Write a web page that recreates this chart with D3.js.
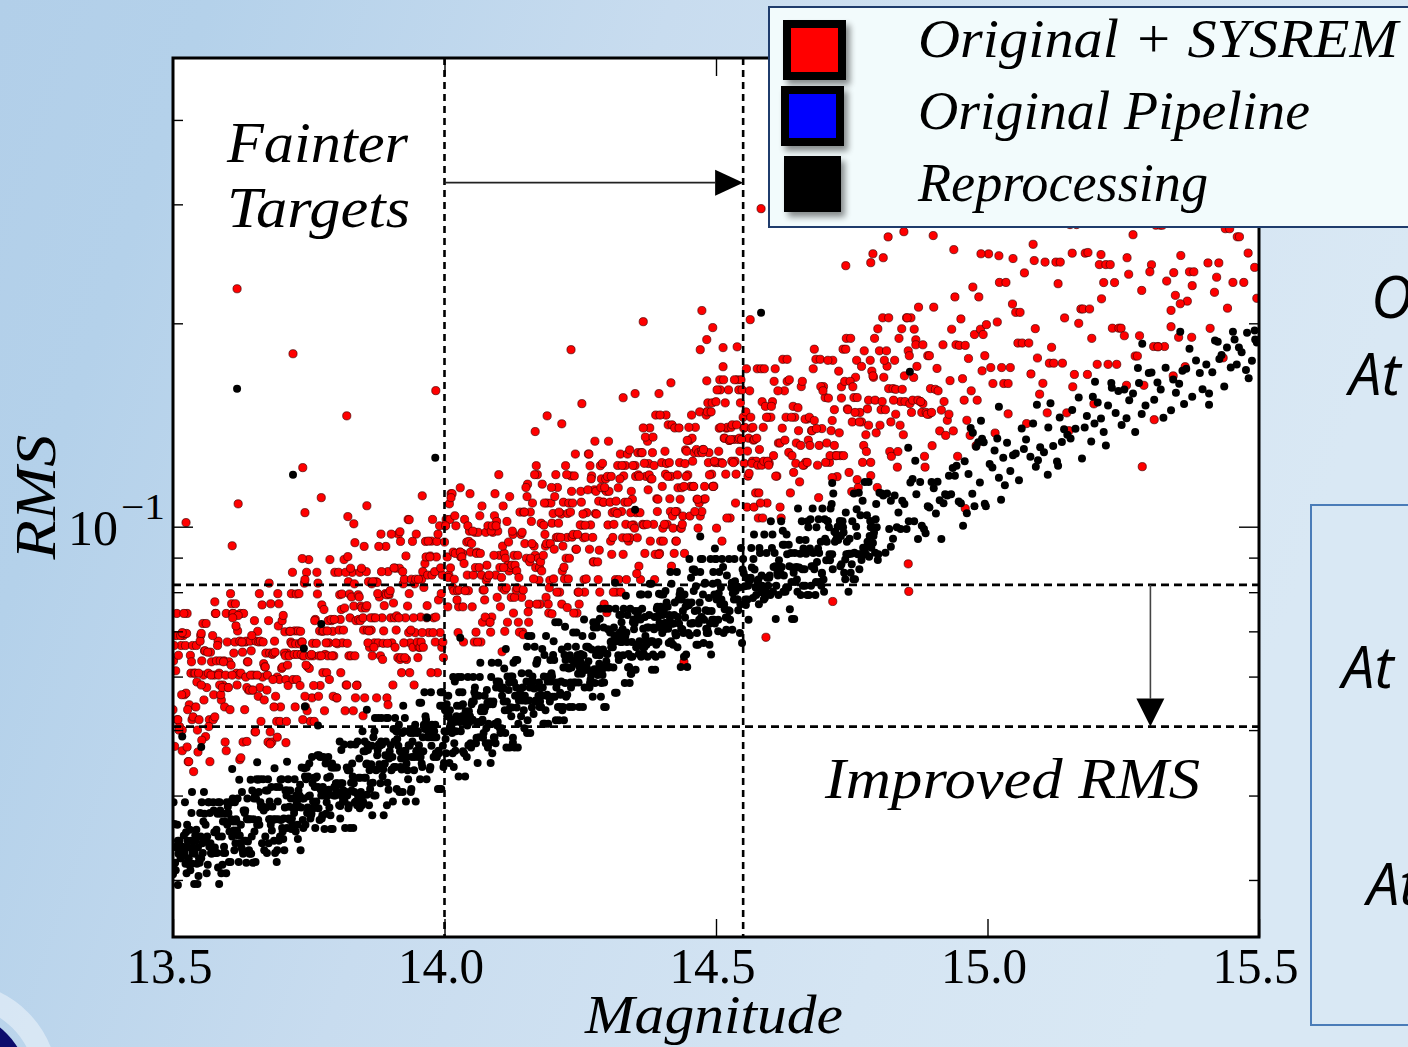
<!DOCTYPE html>
<html><head><meta charset="utf-8">
<script src="https://cdn.jsdelivr.net/npm/d3@7/dist/d3.min.js"></script>
<style>html,body{margin:0;padding:0;overflow:hidden;background:#c6dbee}svg{display:block}</style>
</head><body>
<svg id="chart" width="1408" height="1047"></svg>
<script>
// ---------- data ----------
const xTicks = [13.5, 14.0, 14.5, 15.0, 15.5];
const xTickLabels = ["13.5", "14.0", "14.5", "15.0", "15.5"];
const xInnerTicks = [14.0, 14.5, 15.0];
const yMajorTicks = [0.1];
const yMinorTicks = [0.03, 0.04, 0.05, 0.06, 0.07, 0.08, 0.09, 0.2, 0.3, 0.4];
const legendLabels = ["Original + SYSREM", "Original Pipeline", "Reprocessing"];
const legendColors = ["#ff0000", "#0000ff", "#000000"];
const magnitudeCuts = [14.0, 14.55];
const rmsCuts = [0.082, 0.0506];
const fainterArrow = [[14.0, 0.323], [14.55, 0.323]];
const improvedArrow = [[15.3, 0.082], [15.3, 0.0506]];

// Reprocessing (black): [magnitude, rms]
const reprocessing = [
[13.5,.0306],[13.502,.0317],[13.504,.0318],[13.506,.0336],[13.508,.0362],[13.51,.0328],[13.512,.0343],[13.514,.0323],[13.516,.0335],[13.518,.0336],[13.52,.0349],[13.522,.0391],[13.524,.0353],[13.526,.0362],[13.528,.0335],[13.53,.0316],[13.532,.031],[13.534,.0377],[13.536,.0329],[13.538,.0329],[13.54,.0328],[13.542,.0343],[13.544,.0317],[13.546,.0335],[13.548,.0323],
[13.55,.0377],[13.552,.0323],[13.554,.034],[13.556,.0366],[13.558,.0376],[13.56,.0362],[13.562,.0307],[13.564,.0316],[13.566,.0391],[13.568,.0377],[13.57,.0329],[13.572,.0329],[13.574,.0391],[13.576,.0353],[13.578,.0329],[13.58,.0356],[13.582,.0376],[13.584,.0348],[13.586,.0391],[13.588,.0376],[13.59,.0348],[13.592,.0366],[13.594,.0336],[13.596,.0329],[13.598,.0307],
[13.6,.0362],[13.602,.0377],[13.604,.0354],[13.606,.0319],[13.608,.0391],[13.61,.0396],[13.612,.0355],[13.614,.0391],[13.616,.0369],[13.618,.0355],[13.62,.0349],[13.622,.0422],[13.624,.034],[13.626,.0335],[13.628,.0332],[13.63,.038],[13.632,.0377],[13.634,.0343],[13.636,.0369],[13.638,.0342],[13.64,.0332],[13.642,.0369],[13.644,.0328],[13.646,.0407],[13.648,.0369],
[13.65,.0354],[13.652,.0319],[13.654,.0423],[13.656,.0422],[13.658,.0405],[13.66,.0423],[13.662,.0385],[13.664,.034],[13.666,.0423],[13.668,.0332],[13.67,.0348],[13.672,.0384],[13.674,.0407],[13.676,.034],[13.678,.0392],[13.68,.0362],[13.682,.0355],[13.684,.0368],[13.686,.0343],[13.688,.0329],[13.69,.0412],[13.692,.0332],[13.694,.0369],[13.696,.0412],[13.698,.0422],
[13.7,.0423],[13.702,.0354],[13.704,.037],[13.706,.0384],[13.708,.0407],[13.71,.0358],[13.712,.0423],[13.714,.0385],[13.716,.0407],[13.718,.0357],[13.72,.0362],[13.722,.0383],[13.724,.0423],[13.726,.0354],[13.728,.0391],[13.73,.0345],[13.732,.0385],[13.734,.0415],[13.736,.0384],[13.738,.0396],[13.74,.0358],[13.742,.0439],[13.744,.0362],[13.746,.044],[13.748,.0384],
[13.75,.0399],[13.752,.04],[13.754,.0374],[13.756,.0456],[13.758,.0392],[13.76,.0425],[13.762,.0358],[13.764,.0392],[13.766,.0459],[13.768,.0383],[13.77,.0368],[13.772,.0408],[13.774,.037],[13.776,.0412],[13.778,.04],[13.78,.0407],[13.782,.0376],[13.784,.0425],[13.786,.0456],[13.788,.0384],[13.79,.0374],[13.792,.044],[13.794,.0357],[13.796,.04],[13.798,.044],
[13.8,.0417],[13.802,.044],[13.804,.0405],[13.806,.0387],[13.808,.037],[13.81,.0467],[13.812,.0417],[13.814,.0407],[13.816,.0392],[13.818,.04],[13.82,.044],[13.822,.0436],[13.824,.0387],[13.826,.0358],[13.828,.0418],[13.83,.0446],[13.832,.0358],[13.834,.0405],[13.836,.0476],[13.838,.0391],[13.84,.0481],[13.842,.0425],[13.844,.0383],[13.846,.0405],[13.848,.0387],
[13.85,.0392],[13.852,.0425],[13.854,.0465],[13.856,.0445],[13.858,.0476],[13.86,.0474],[13.862,.0436],[13.864,.0417],[13.866,.0474],[13.868,.0418],[13.87,.04],[13.872,.0521],[13.874,.0436],[13.876,.0459],[13.878,.0521],[13.88,.0445],[13.882,.0417],[13.884,.0521],[13.886,.0427],[13.888,.0374],[13.89,.0446],[13.892,.0481],[13.894,.0387],[13.896,.0521],[13.898,.0454],
[13.9,.0456],[13.902,.0436],[13.904,.0456],[13.906,.0502],[13.908,.0481],[13.91,.0441],[13.912,.0409],[13.914,.0498],[13.916,.0509],[13.918,.0465],[13.92,.0454],[13.922,.0495],[13.924,.0465],[13.926,.0498],[13.928,.0466],[13.93,.0446],[13.932,.0436],[13.934,.0475],[13.936,.0474],[13.938,.0405],[13.94,.0456],[13.942,.0502],[13.944,.0436],[13.946,.0509],[13.948,.0465],
[13.95,.0495],[13.952,.0456],[13.954,.0549],[13.956,.0456],[13.958,.0446],[13.96,.0488],[13.962,.0509],[13.964,.0502],[13.966,.0518],[13.968,.0509],[13.97,.0502],[13.972,.0488],[13.974,.0441],[13.976,.0474],[13.978,.0508],[13.98,.0456],[13.982,.0488],[13.984,.0462],[13.986,.0456],[13.988,.0409],[13.99,.0462],[13.992,.0543],[13.994,.0409],[13.996,.0569],[13.998,.0441],
[14.0,.0498],[14.002,.0485],[14.004,.0546],[14.006,.0498],[14.008,.0524],[14.01,.0535],[14.012,.0518],[14.014,.0495],[14.016,.0599],[14.018,.0478],[14.02,.0466],[14.022,.0524],[14.024,.0518],[14.026,.0427],[14.028,.0514],[14.03,.0498],[14.032,.0524],[14.034,.0546],[14.036,.0462],[14.038,.0427],[14.04,.0524],[14.042,.0508],[14.044,.0475],[14.046,.0514],[14.048,.0478],
[14.05,.0546],[14.052,.0518],[14.054,.0551],[14.056,.0578],[14.058,.0478],[14.06,.0511],[14.062,.0514],[14.064,.0488],[14.066,.0629],[14.068,.0514],[14.07,.0518],[14.072,.0495],[14.074,.0562],[14.076,.0478],[14.078,.0573],[14.08,.0471],[14.082,.0478],[14.084,.0551],[14.086,.0599],[14.088,.0462],[14.09,.0551],[14.092,.0487],[14.094,.0478],[14.096,.059],[14.098,.0514],
[14.1,.059],[14.102,.0503],[14.104,.0576],[14.106,.0562],[14.108,.0578],[14.11,.0617],[14.112,.0495],[14.114,.0471],[14.116,.06],[14.118,.0573],[14.12,.0471],[14.122,.06],[14.124,.054],[14.126,.0487],[14.128,.0588],[14.13,.0562],[14.132,.0578],[14.134,.0635],[14.136,.0511],[14.138,.0562],[14.14,.0576],[14.142,.0607],[14.144,.0578],[14.146,.0535],[14.148,.0562],
[14.15,.0553],[14.152,.0495],[14.154,.0689],[14.156,.0553],[14.158,.0495],[14.16,.0689],[14.162,.06],[14.164,.0528],[14.166,.0664],[14.168,.0553],[14.17,.0629],[14.172,.0578],[14.174,.0588],[14.176,.0551],[14.178,.0541],[14.18,.0659],[14.182,.0511],[14.184,.0646],[14.186,.0535],[14.188,.0562],[14.19,.059],[14.192,.06],[14.194,.0551],[14.196,.059],[14.198,.06],
[14.2,.0646],[14.202,.0635],[14.204,.0722],[14.206,.0578],[14.208,.0588],[14.21,.0722],[14.212,.0541],[14.214,.0564],[14.216,.0658],[14.218,.0541],[14.22,.0517],[14.222,.0587],[14.224,.056],[14.226,.0564],[14.228,.0619],[14.23,.0541],[14.232,.0588],[14.234,.0619],[14.236,.0541],[14.238,.0588],[14.24,.0632],[14.242,.0664],[14.244,.0635],[14.246,.0606],[14.248,.0541],
[14.25,.0632],[14.252,.0627],[14.254,.0689],[14.256,.0645],[14.258,.0578],[14.26,.0614],[14.262,.0619],[14.264,.0664],[14.266,.0662],[14.268,.0587],[14.27,.0603],[14.272,.0689],[14.274,.0722],[14.276,.0615],[14.278,.0614],[14.28,.0722],[14.282,.0603],[14.284,.0614],[14.286,.0645],[14.288,.056],[14.29,.0614],[14.292,.0658],[14.294,.0541],[14.296,.0756],[14.298,.0632],
[14.3,.0648],[14.302,.0619],[14.304,.062],[14.306,.0675],[14.308,.0677],[14.31,.0663],[14.312,.0709],[14.314,.0568],[14.316,.0677],[14.318,.0689],[14.32,.0645],[14.322,.074],[14.324,.0675],[14.326,.0722],[14.328,.0705],[14.33,.0756],[14.332,.0587],[14.334,.079],[14.336,.0675],[14.338,.0619],[14.34,.062],[14.342,.0756],[14.344,.0606],[14.346,.0642],[14.348,.0729],
[14.35,.0719],[14.352,.0614],[14.354,.0669],[14.356,.074],[14.358,.0648],[14.36,.0794],[14.362,.0642],[14.364,.0756],[14.366,.0706],[14.368,.0663],[14.37,.0689],[14.372,.0669],[14.374,.0642],[14.376,.0709],[14.378,.0823],[14.38,.0677],[14.382,.0614],[14.384,.0647],[14.386,.0705],[14.388,.0614],[14.39,.0669],[14.392,.0761],[14.394,.0675],[14.396,.072],[14.398,.0761],
[14.4,.0647],[14.402,.074],[14.404,.075],[14.406,.072],[14.408,.0719],[14.41,.0719],[14.412,.0706],[14.414,.074],[14.416,.0857],[14.418,.0823],[14.42,.0719],[14.422,.0719],[14.424,.0772],[14.426,.0691],[14.428,.0857],[14.43,.0735],[14.432,.0719],[14.434,.0803],[14.436,.0706],[14.438,.0705],[14.44,.0696],[14.442,.0794],[14.444,.0761],[14.446,.0765],[14.448,.0772],
[14.45,.0765],[14.452,.0691],[14.454,.084],[14.456,.0719],[14.458,.072],[14.46,.0864],[14.462,.0857],[14.464,.0669],[14.466,.0752],[14.468,.0719],[14.47,.0772],[14.472,.0896],[14.474,.0734],[14.476,.0794],[14.478,.0728],[14.48,.0826],[14.482,.0706],[14.484,.0704],[14.486,.0696],[14.488,.0669],[14.49,.0896],[14.492,.075],[14.494,.0823],[14.496,.0728],[14.498,.0719],
[14.5,.0896],[14.503,.0826],[14.505,.0797],[14.508,.0768],[14.51,.078],[14.513,.0872],[14.515,.0768],[14.518,.0734],[14.52,.0847],[14.523,.0752],[14.525,.075],[14.528,.0813],[14.53,.0704],[14.533,.078],[14.535,.083],[14.538,.0816],[14.54,.078],[14.543,.0813],[14.545,.0768],[14.548,.0673],
[14.55,.0896],[14.553,.0816],[14.555,.0766],[14.558,.078],[14.56,.0728],[14.563,.0835],[14.565,.093],[14.568,.0784],[14.57,.0974],[14.573,.0813],[14.575,.0816],[14.578,.0835],[14.58,.093],[14.583,.08],[14.585,.0818],[14.588,.078],[14.59,.0784],[14.593,.0914],[14.595,.0797],[14.598,.084],
[14.6,.0792],[14.603,.093],[14.605,.0801],[14.608,.0914],[14.61,.073],[14.613,.0855],[14.615,.0792],[14.618,.0872],[14.62,.1019],[14.623,.094],[14.625,.0847],[14.628,.0801],[14.63,.0974],[14.633,.0813],[14.635,.0874],[14.638,.0914],[14.64,.073],[14.643,.0855],[14.645,.0914],[14.648,.0872],
[14.65,.0801],[14.653,.087],[14.655,.0912],[14.658,.1019],[14.66,.0818],[14.663,.0865],[14.665,.0956],[14.668,.0792],[14.67,.0998],[14.673,.0928],[14.675,.0818],[14.678,.1064],[14.68,.0874],[14.683,.0792],[14.685,.0998],[14.688,.0928],[14.69,.0914],[14.693,.095],[14.695,.0855],[14.698,.0835],
[14.7,.1026],[14.703,.0892],[14.705,.102],[14.708,.0998],[14.71,.0892],[14.713,.108],[14.715,.0865],[14.718,.0983],[14.72,.098],[14.723,.0969],[14.725,.0956],[14.728,.102],[14.73,.0969],[14.733,.1019],[14.735,.098],[14.738,.0836],[14.74,.091],[14.743,.091],[14.745,.0912],[14.748,.0855],
[14.75,.088],[14.753,.0836],[14.755,.0915],[14.758,.1],[14.76,.0969],[14.763,.1123],[14.765,.091],[14.768,.0893],[14.77,.1092],[14.773,.091],[14.775,.0931],[14.778,.104],[14.78,.094],[14.783,.0969],[14.785,.0998],[14.788,.1],[14.79,.0969],[14.793,.0915],[14.795,.108],[14.798,.0893],
[14.801,.1123],[14.805,.112],[14.808,.1112],[14.812,.0915],[14.815,.112],[14.819,.0992],[14.822,.1092],[14.826,.096],[14.829,.1112],[14.833,.0998],[14.836,.105],[14.84,.0992],[14.843,.1092],[14.847,.108],
[14.851,.0992],[14.855,.1019],[14.858,.1163],[14.862,.1177],[14.865,.1019],[14.869,.1117],[14.872,.0959],[14.876,.1165],[14.879,.1003],[14.883,.0992],[14.886,.0978],[14.89,.1072],[14.893,.1068],[14.897,.1165],
[14.901,.114],[14.905,.1046],[14.908,.1166],[14.912,.1094],[14.915,.0959],[14.919,.1083],[14.922,.1117],[14.926,.1112],[14.929,.119],[14.933,.1117],[14.936,.1221],[14.94,.119],[14.943,.1231],[14.947,.109],
[14.951,.1083],[14.955,.1003],[14.958,.125],[14.962,.1047],[14.965,.1197],[14.969,.14],[14.972,.1119],[14.976,.1072],[14.979,.1313],[14.983,.1333],[14.986,.1163],[14.99,.135],[14.993,.1333],[14.997,.1072],
[15.004,.1238],[15.013,.1297],[15.021,.1182],[15.029,.1265],[15.036,.1331],[15.042,.1209],[15.047,.1276],[15.018,.1351],[15.032,.1152],[15.009,.1224],
[15.071,.1346],[15.052,.1283],[15.089,.1227],[15.063,.1398],[15.097,.1311],[15.058,.1172],[15.079,.1269],[15.084,.1421],[15.067,.1303],[15.093,.1254],
[15.112,.1402],[15.121,.1317],[15.147,.1368],[15.104,.1289],[15.133,.1451],[15.128,.1249],[15.141,.1394],[15.116,.1523],[15.137,.1335],
[15.183,.1458],[15.162,.1396],[15.191,.1337],[15.156,.1489],[15.174,.1262],[15.197,.1421],[15.168,.1553],[15.179,.1402],[15.153,.1351],
[15.222,.1512],[15.209,.1446],[15.241,.1588],[15.214,.1381],[15.236,.1473],[15.203,.1527],[15.247,.1414],[15.228,.1632],[15.218,.1319],
[15.268,.1574],[15.291,.1511],[15.256,.1447],[15.279,.1632],[15.261,.1539],[15.297,.1688],[15.284,.1468],[15.272,.1381],[15.252,.1596],
[15.319,.1596],[15.342,.1652],[15.307,.1541],[15.328,.1719],[15.338,.1487],[15.313,.1634],[15.347,.1578],[15.302,.1692],[15.324,.1449],
[15.366,.1713],[15.353,.1628],[15.391,.1689],[15.377,.1557],[15.384,.1762],[15.359,.1701],[15.396,.1598],[15.372,.1834],[15.362,.1519],
[15.427,.1771],[15.414,.1693],[15.441,.1842],[15.403,.1738],[15.436,.1612],[15.419,.1887],[15.448,.1721],[15.408,.1574],[15.431,.1796],
[15.463,.1842],[15.487,.1761],[15.455,.1893],[15.476,.1706],[15.492,.1951],[15.468,.1812],[15.481,.1659],[15.496,.1874],[15.459,.1738]
];
// Reprocessing (black), second pass through the dense part of the band
const reprocessingDense = [
[13.501,.0391],[13.503,.0363],[13.505,.031],[13.507,.0335],[13.509,.0343],[13.511,.0339],[13.513,.0335],[13.515,.0323],[13.517,.0329],[13.519,.0328],[13.521,.0329],[13.523,.0317],[13.525,.0307],[13.527,.0343],[13.529,.0323],[13.531,.0356],[13.533,.0343],[13.535,.0317],[13.537,.0335],[13.539,.0296],[13.541,.0349],[13.543,.0356],[13.545,.0296],[13.547,.0304],[13.549,.0318],
[13.551,.0348],[13.553,.0391],[13.555,.0329],[13.557,.0405],[13.559,.0342],[13.561,.0343],[13.563,.0348],[13.565,.0391],[13.567,.0336],[13.569,.034],[13.571,.0328],[13.573,.0329],[13.575,.038],[13.577,.0335],[13.579,.0353],[13.581,.0329],[13.583,.0391],[13.585,.0296],[13.587,.038],[13.589,.0307],[13.591,.0316],[13.593,.0329],[13.595,.0366],[13.597,.0376],[13.599,.0391],
[13.601,.0385],[13.603,.0319],[13.605,.0391],[13.607,.0369],[13.609,.0348],[13.611,.0366],[13.613,.0332],[13.615,.034],[13.617,.0366],[13.619,.0396],[13.621,.0319],[13.623,.0349],[13.625,.0362],[13.627,.0405],[13.629,.0328],[13.631,.0343],[13.633,.038],[13.635,.0318],[13.637,.0396],[13.639,.0369],[13.641,.0328],[13.643,.0422],[13.645,.0348],[13.647,.0318],[13.649,.0396],
[13.651,.04],[13.653,.0396],[13.655,.0362],[13.657,.0368],[13.659,.0362],[13.661,.0391],[13.663,.0384],[13.665,.0385],[13.667,.038],[13.669,.0384],[13.671,.0407],[13.673,.0329],[13.675,.0423],[13.677,.0369],[13.679,.0369],[13.681,.0412],[13.683,.0385],[13.685,.0369],[13.687,.0439],[13.689,.0369],[13.691,.0319],[13.693,.0392],[13.695,.0343],[13.697,.0348],[13.699,.0368],
[13.701,.0358],[13.703,.0345],[13.705,.0332],[13.707,.0407],[13.709,.04],[13.711,.0407],[13.713,.037],[13.715,.0368],[13.717,.0396],[13.719,.037],[13.721,.0384],[13.723,.0377],[13.725,.0383],[13.727,.04],[13.729,.0362],[13.731,.0407],[13.733,.04],[13.735,.0332],[13.737,.044],[13.739,.0368],[13.741,.0396],[13.743,.0427],[13.745,.0423],[13.747,.0377],[13.749,.0427],
[13.751,.0446],[13.753,.037],[13.755,.0376],[13.757,.0417],[13.759,.0383],[13.761,.0412],[13.763,.0425],[13.765,.0427],[13.767,.0412],[13.769,.0459],[13.771,.0456],[13.773,.04],[13.775,.0374],[13.777,.0456],[13.779,.0357],[13.781,.0446],[13.783,.0391],[13.785,.04],[13.787,.0408],[13.789,.0427],[13.791,.0357],[13.793,.0446],[13.795,.044],[13.797,.0412],[13.799,.04],
[13.801,.0405],[13.803,.0417],[13.805,.0415],[13.807,.0481],[13.809,.0417],[13.811,.0399],[13.813,.0392],[13.815,.0476],[13.817,.0358],[13.819,.0405],[13.821,.04],[13.823,.0383],[13.825,.0436],[13.827,.0476],[13.829,.0407],[13.831,.0427],[13.833,.0417],[13.835,.0391],[13.837,.0392],[13.839,.0387],[13.841,.0399],[13.843,.0454],[13.845,.0425],[13.847,.0399],[13.849,.0498],
[13.851,.0465],[13.853,.0481],[13.855,.0425],[13.857,.0446],[13.859,.0467],[13.861,.0387],[13.863,.0409],[13.865,.0445],[13.867,.0374],[13.869,.0488],[13.871,.0498],[13.873,.04],[13.875,.0437],[13.877,.0467],[13.879,.0476],[13.881,.0474],[13.883,.0481],[13.885,.0476],[13.887,.0437],[13.889,.0445],[13.891,.0459],[13.893,.0521],[13.895,.0418],[13.897,.0408],[13.899,.0465],
[13.901,.0475],[13.903,.0437],[13.905,.0392],[13.907,.0441],[13.909,.0521],[13.911,.0498],[13.913,.0485],[13.915,.0474],[13.917,.0405],[13.919,.0441],[13.921,.0437],[13.923,.0405],[13.925,.0456],[13.927,.0521],[13.929,.0392],[13.931,.0456],[13.933,.0423],[13.935,.0498],[13.937,.0495],[13.939,.0409],[13.941,.0481],[13.943,.0495],[13.945,.0456],[13.947,.0392],[13.949,.0466],
[13.951,.0498],[13.953,.0475],[13.955,.0423],[13.957,.0549],[13.959,.0441],[13.961,.0465],[13.963,.0569],[13.965,.0524],[13.967,.0423],[13.969,.0488],[13.971,.0495],[13.973,.0437],[13.975,.0569],[13.977,.0509],[13.979,.0488],[13.981,.0498],[13.983,.0509],[13.985,.0488],[13.987,.0462],[13.989,.0466],[13.991,.0409],[13.993,.0569],[13.995,.0543],[13.997,.0474],[13.999,.0447],
[14.001,.0535],[14.003,.0462],[14.005,.0524],[14.007,.0562],[14.009,.0447],[14.011,.0509],[14.013,.0503],[14.015,.0462],[14.017,.0441],[14.019,.0514],[14.021,.0498],[14.023,.0543],[14.025,.0599],[14.027,.0569],[14.029,.0543],[14.031,.0599],[14.033,.0569],[14.035,.0524],[14.037,.0514],[14.039,.0533],[14.041,.0456],[14.043,.0599],[14.045,.0533],[14.047,.0524],[14.049,.0471],
[14.051,.0551],[14.053,.0599],[14.055,.0569],[14.057,.0562],[14.059,.0487],[14.061,.0447],[14.063,.0562],[14.065,.0599],[14.067,.0533],[14.069,.054],[14.071,.0487],[14.073,.0533],[14.075,.054],[14.077,.0503],[14.079,.0549],[14.081,.0511],[14.083,.0546],[14.085,.0447],[14.087,.0629],[14.089,.0546],[14.091,.0488],[14.093,.0511],[14.095,.0578],[14.097,.0508],[14.099,.0629],
[14.101,.0588],[14.103,.0495],[14.105,.0503],[14.107,.0576],[14.109,.0551],[14.111,.0535],[14.113,.0659],[14.115,.0551],[14.117,.0535],[14.119,.0588],[14.121,.054],[14.123,.0524],[14.125,.06],[14.127,.0629],[14.129,.0471],[14.131,.0635],[14.133,.054],[14.135,.0471],[14.137,.0553],[14.139,.0573],[14.141,.0524],[14.143,.0553],[14.145,.0562],[14.147,.0503],[14.149,.0553],
[14.151,.059],[14.153,.0517],[14.155,.0607],[14.157,.0578],[14.159,.0588],[14.161,.054],[14.163,.059],[14.165,.0576],[14.167,.0551],[14.169,.0627],[14.171,.0635],[14.173,.0562],[14.175,.0541],[14.177,.0564],[14.179,.0562],[14.181,.0578],[14.183,.06],[14.185,.0511],[14.187,.0689],[14.189,.0564],[14.191,.0511],[14.193,.056],[14.195,.0635],[14.197,.0607],[14.199,.056],
[14.201,.0677],[14.203,.056],[14.205,.0517],[14.207,.0587],[14.209,.0541],[14.211,.0517],[14.213,.0568],[14.215,.059],[14.217,.0535],[14.219,.0619],[14.221,.0646],[14.223,.0635],[14.225,.0619],[14.227,.0664],[14.229,.0617],[14.231,.0645],[14.233,.0578],[14.235,.0635],[14.237,.0697],[14.239,.0627],[14.241,.0588],[14.243,.0697],[14.245,.0646],[14.247,.0588],[14.249,.0619],
[14.251,.0648],[14.253,.0606],[14.255,.0541],[14.257,.0729],[14.259,.0619],[14.261,.0664],[14.263,.0614],[14.265,.0632],[14.267,.0578],[14.269,.0594],[14.271,.0658],[14.273,.056],[14.275,.0709],[14.277,.0587],[14.279,.0646],[14.281,.0709],[14.283,.0658],[14.285,.0627],[14.287,.0756],[14.289,.0587],[14.291,.0603],[14.293,.0709],[14.295,.0619],[14.297,.0541],[14.299,.0648],
[14.301,.0705],[14.303,.0756],[14.305,.0697],[14.307,.0663],[14.309,.0675],[14.311,.0619],[14.313,.0691],[14.315,.0756],[14.317,.0568],[14.319,.0691],[14.321,.0635],[14.323,.0697],[14.325,.074],[14.327,.0675],[14.329,.0645],[14.331,.0691],[14.333,.0689],[14.335,.0697],[14.337,.074],[14.339,.0648],[14.341,.0587],[14.343,.0642],[14.345,.0675],[14.347,.0722],[14.349,.0705],
[14.351,.075],[14.353,.0663],[14.355,.0729],[14.357,.075],[14.359,.0677],[14.361,.0729],[14.363,.0794],[14.365,.0663],[14.367,.0648],[14.369,.0735],[14.371,.0677],[14.373,.0709],[14.375,.0794],[14.377,.074],[14.379,.0675],[14.381,.0823],[14.383,.0677],[14.385,.0709],[14.387,.0735],[14.389,.0642],[14.391,.0756],[14.393,.0735],[14.395,.074],[14.397,.0709],[14.399,.0794],
[14.401,.0696],[14.403,.0794],[14.405,.0705],[14.407,.0803],[14.409,.0772],[14.411,.0761],[14.413,.0673],[14.415,.0735],[14.417,.0677],[14.419,.0719],[14.421,.0669],[14.423,.074],[14.425,.0696],[14.427,.0691],[14.429,.0663],[14.431,.078],[14.433,.0794],[14.435,.062],[14.437,.078],[14.439,.075],[14.441,.0642],[14.443,.0734],[14.445,.0647],[14.447,.062],[14.449,.0696],
[14.451,.0896],[14.453,.0719],[14.455,.0772],[14.457,.0864],[14.459,.0803],[14.461,.075],[14.463,.0816],[14.465,.0696],[14.467,.0669],[14.469,.0728],[14.471,.0857],[14.473,.0735],[14.475,.0896],[14.477,.0673],[14.479,.0823],[14.481,.0752],[14.483,.0696],[14.485,.075],[14.487,.0784],[14.489,.0719],[14.491,.0647],[14.493,.0728],[14.495,.0857],[14.497,.0794],[14.499,.0896],
[14.501,.078],[14.504,.0728],[14.506,.0857],[14.509,.0813],[14.511,.0896],[14.514,.0696],[14.516,.0755],[14.519,.0704],[14.521,.0734],[14.524,.0896],[14.526,.0728],[14.529,.0826],[14.531,.0797],[14.534,.0896],[14.536,.0803],[14.539,.078],[14.541,.0752],[14.544,.0696],[14.546,.093],[14.549,.0864],
[14.551,.0853],[14.554,.078],[14.556,.084],[14.559,.0818],[14.561,.083],[14.564,.084],[14.566,.087],[14.569,.0896],[14.571,.0864],[14.574,.0792],[14.576,.083],[14.579,.0768],[14.581,.0914],[14.584,.0847],[14.586,.08],[14.589,.0974],[14.591,.0813],[14.594,.084],[14.596,.0818],[14.599,.0847],
[14.601,.1019],[14.604,.0974],[14.606,.0872],[14.609,.0874],[14.611,.0818],[14.614,.0847],[14.616,.0892],[14.619,.0853],[14.621,.0872],[14.624,.0801],[14.626,.094],[14.629,.0813],[14.631,.091],[14.634,.094],[14.636,.0755],[14.639,.0828],[14.641,.087],[14.644,.073],[14.646,.0828],[14.649,.0835],
[14.651,.1064],[14.654,.0956],[14.656,.0792],[14.659,.0865],[14.661,.0928],[14.664,.0818],[14.666,.0912],[14.669,.1019],[14.671,.0792],[14.674,.1026],[14.676,.0874],[14.679,.0914],[14.681,.0865],[14.684,.0828],[14.686,.0887],[14.689,.1026],[14.691,.0828],[14.694,.0818],[14.696,.1064],[14.699,.0801],
[14.701,.096],[14.704,.095],[14.706,.1019],[14.709,.091],[14.711,.1064],[14.714,.091],[14.716,.112],[14.719,.095],[14.721,.0956],[14.724,.1],[14.726,.0969],[14.729,.0874],[14.731,.088],[14.734,.0998],[14.736,.0855],[14.739,.105],[14.741,.095],[14.744,.0801],[14.746,.096],[14.749,.0912],
[14.751,.1019],[14.754,.112],[14.756,.0836],[14.759,.1061],[14.761,.091],[14.764,.0865],[14.766,.104],[14.769,.091],[14.771,.0931],[14.774,.1165],[14.776,.091],[14.779,.095],[14.781,.1165],[14.784,.102],[14.786,.0931],[14.789,.0946],[14.791,.098],[14.794,.1026],[14.796,.0998],[14.799,.091]
];
const reprocessingOutliers = [
[13.618,.160],[13.721,.1194],[13.983,.1265],[14.583,.2073],[14.857,.1696],[13.773,.0718],[13.741,.066],[13.968,.0733],[14.029,.0685],[14.019,.059],
[13.743,.0542],[13.857,.0536],[13.924,.0543],[13.517,.0489],[13.552,.0472],[13.767,.0508],[13.655,.0448],[13.609,.0438],[13.71,.0449],[13.535,.0405],
[13.583,.0313],[13.808,.0386],[13.857,.0401],[14.126,.0479],[14.034,.0465],[14.471,.0967],[14.351,.1059],[14.498,.0928],[14.623,.0986],[14.695,.0852],
[14.152,.0664],[14.222,.0711],[14.286,.0731],[14.314,.0826],[14.395,.0796],[14.504,.07],[14.343,.0606],[14.294,.0588],[15.355,.1944],[15.285,.1866],
[15.277,.1718],[15.452,.1944],[15.478,.1937],[15.493,.1892],[15.424,.1878],[15.198,.1639],[15.229,.1606],[15.194,.1557],[15.091,.1515],[15.021,.1505],
[14.988,.1435],[14.973,.1377],[14.854,.1309],[14.867,.1252],[14.714,.1161],[15.408,.1515],[15.111,.1194],[15.13,.1231],[15.025,.1096],[14.995,.1081],
[14.822,.0934],[14.782,.0903],[14.738,.0894],[13.509,.0295]
];

// Original + SYSREM (red): [magnitude, rms]
const sysrem = [
[13.501,.0633],[13.503,.0473],[13.506,.069],[13.508,.0518],[13.51,.0645],[13.512,.0506],[13.515,.0667],[13.517,.05],[13.519,.069],[13.521,.0564],[13.524,.0567],[13.526,.0744],[13.528,.0449],[13.53,.0545],[13.533,.0607],[13.535,.0518],[13.537,.0523],[13.539,.0607],[13.542,.0541],[13.544,.0589],[13.546,.0464],[13.548,.0518],
[13.551,.069],[13.553,.0633],[13.556,.0603],[13.558,.0655],[13.56,.0489],[13.562,.0578],[13.565,.0607],[13.567,.0518],[13.569,.0652],[13.571,.0631],[13.574,.0518],[13.576,.0603],[13.578,.0744],[13.58,.0633],[13.583,.0677],[13.585,.0607],[13.587,.0633],[13.589,.0554],[13.592,.0583],[13.594,.0633],[13.596,.048],[13.598,.0744],
[13.601,.0578],[13.603,.0631],[13.606,.0796],[13.608,.0769],[13.61,.0744],[13.612,.065],[13.615,.0769],[13.617,.0607],[13.619,.0701],[13.621,.0603],[13.624,.0744],[13.626,.0675],[13.628,.0652],[13.63,.0744],[13.633,.0675],[13.635,.0677],[13.637,.0631],[13.639,.0573],[13.642,.0677],[13.644,.0655],[13.646,.0573],[13.648,.0603],
[13.651,.0497],[13.653,.0677],[13.656,.07],[13.658,.0675],[13.66,.0578],[13.662,.0515],[13.665,.0599],[13.667,.0627],[13.669,.062],[13.671,.065],[13.674,.0603],[13.676,.0726],[13.678,.065],[13.68,.0769],[13.683,.0647],[13.685,.065],[13.687,.0677],[13.689,.0561],[13.692,.0599],[13.694,.0713],[13.696,.0594],[13.698,.0541],
[13.701,.0726],[13.703,.0739],[13.706,.0699],[13.708,.0594],[13.71,.065],[13.712,.0582],[13.715,.07],[13.717,.0675],[13.719,.0671],[13.721,.0594],[13.724,.0701],[13.726,.0671],[13.728,.0594],[13.73,.0701],[13.733,.0671],[13.735,.07],[13.737,.0675],[13.739,.0644],[13.742,.0825],[13.744,.0541],[13.746,.0856],[13.748,.062],
[13.751,.0617],[13.753,.0515],[13.756,.0558],[13.758,.0644],[13.76,.0515],[13.762,.0729],[13.765,.0856],[13.767,.0825],[13.769,.0644],[13.771,.0582],[13.774,.0766],[13.776,.0608],[13.778,.0754],[13.78,.0647],[13.783,.0608],[13.785,.0644],[13.787,.0673],[13.789,.0894],[13.792,.0726],[13.794,.07],[13.796,.0644],[13.798,.0856],
[13.801,.0558],[13.803,.0671],[13.806,.0703],[13.808,.0729],[13.81,.0754],[13.812,.0673],[13.815,.0894],[13.817,.0534],[13.819,.0583],[13.821,.0672],[13.824,.0644],[13.826,.0733],[13.828,.0644],[13.83,.0856],[13.833,.0763],[13.835,.0644],[13.837,.0726],[13.839,.0583],[13.842,.0729],[13.844,.0856],[13.846,.0763],[13.848,.0758],
[13.851,.0703],[13.853,.0558],[13.856,.0858],[13.858,.0703],[13.86,.0829],[13.862,.0663],[13.865,.0703],[13.867,.0644],[13.869,.0733],[13.871,.0673],[13.874,.0829],[13.876,.0827],[13.878,.0673],[13.88,.0787],[13.883,.0975],[13.885,.0733],[13.887,.0672],[13.889,.0764],[13.892,.0935],[13.894,.0558],[13.896,.0858],[13.898,.0793],
[13.901,.0733],[13.903,.0673],[13.906,.0771],[13.908,.0733],[13.91,.0868],[13.912,.0738],[13.915,.0975],[13.917,.0868],[13.919,.0951],[13.921,.0608],[13.924,.0823],[13.926,.0836],[13.928,.0733],[13.93,.0636],[13.933,.1025],[13.935,.0796],[13.937,.0673],[13.939,.0836],[13.942,.0663],[13.944,.0583],[13.946,.0697],[13.948,.0975],
[13.951,.064],[13.953,.0663],[13.956,.0735],[13.958,.0836],[13.96,.0858],[13.962,.0813],[13.965,.0951],[13.967,.0733],[13.969,.0848],[13.971,.0697],[13.974,.0905],[13.976,.0952],[13.978,.1025],[13.98,.0733],[13.983,.0675],[13.985,.0902],[13.987,.0608],[13.989,.0779],[13.992,.0697],[13.994,.0796],[13.996,.0848],[13.998,.064],
[14.001,.1003],[14.003,.1025],[14.006,.0761],[14.008,.0848],[14.01,.1025],[14.012,.1119],[14.015,.0813],[14.017,.0804],[14.019,.1038],[14.021,.1003],[14.024,.0804],[14.026,.0761],[14.028,.0917],[14.03,.0902],[14.033,.0913],[14.035,.0675],[14.037,.1025],[14.039,.0806],[14.042,.0848],[14.044,.0804],[14.046,.0985],[14.048,.0917],
[14.051,.0761],[14.053,.0848],[14.056,.0981],[14.058,.0698],[14.06,.0917],[14.062,.0981],[14.065,.1038],[14.067,.0675],[14.069,.1073],[14.071,.0806],[14.074,.0779],[14.076,.0981],[14.078,.0877],[14.08,.1003],[14.083,.0722],[14.085,.0698],[14.087,.0735],[14.089,.0981],[14.092,.1038],[14.094,.0848],[14.096,.1018],[14.098,.0985],
[14.101,.0907],[14.103,.0761],[14.106,.0812],[14.108,.1073],[14.11,.0913],[14.112,.0898],[14.115,.1018],[14.117,.0877],[14.119,.086],[14.121,.087],[14.124,.0877],[14.126,.0974],[14.128,.0907],[14.13,.0877],[14.133,.086],[14.135,.0907],[14.137,.0841],[14.139,.1051],[14.142,.0786],[14.144,.0698],[14.146,.1051],[14.148,.0944],
[14.151,.0898],[14.153,.1156],[14.156,.0768],[14.158,.1051],[14.16,.1018],[14.162,.1084],[14.165,.0936],[14.167,.0907],[14.169,.1231],[14.171,.1194],[14.174,.0833],[14.176,.0768],[14.178,.1012],[14.18,.1156],[14.183,.1005],[14.185,.0974],[14.187,.0786],[14.189,.1084],[14.192,.0745],[14.194,.0833],[14.196,.1084],[14.198,.1012],
[14.201,.0837],[14.203,.1108],[14.206,.0964],[14.208,.1143],[14.21,.1012],[14.212,.08],[14.215,.1044],[14.217,.086],[14.219,.1087],[14.221,.0837],[14.224,.0898],[14.226,.0964],[14.228,.0837],[14.23,.0898],[14.233,.1189],[14.235,.0965],[14.237,.0974],[14.239,.1189],[14.242,.0926],[14.244,.0745],[14.246,.08],[14.248,.0768],
[14.251,.1128],[14.253,.1005],[14.256,.0963],[14.258,.08],[14.26,.0965],[14.262,.1049],[14.265,.1281],[14.267,.0926],[14.269,.1006],[14.271,.1189],[14.274,.0887],[14.276,.1134],[14.278,.1046],[14.28,.1044],[14.283,.0835],[14.285,.0923],[14.287,.1231],[14.289,.1177],[14.292,.1087],[14.294,.0768],[14.296,.1134],[14.298,.1128],
[14.301,.1006],[14.303,.1128],[14.306,.0952],[14.308,.091],[14.31,.0964],[14.312,.1008],[14.315,.0835],[14.317,.08],[14.319,.1232],[14.321,.0835],[14.324,.1281],[14.326,.1053],[14.328,.0963],[14.33,.1189],[14.333,.1232],[14.335,.0835],[14.337,.1281],[14.339,.0952],[14.342,.0963],[14.344,.1128],[14.346,.1098],[14.348,.1006],
[14.351,.1232],[14.353,.1049],[14.356,.1287],[14.358,.0874],[14.36,.1049],[14.362,.1287],[14.365,.1008],[14.367,.1006],[14.369,.0913],[14.371,.1187],[14.374,.1338],[14.376,.124],[14.378,.14],[14.38,.1177],[14.383,.1287],[14.385,.1008],[14.387,.0835],[14.389,.1463],[14.392,.1053],[14.394,.091],[14.396,.0913],[14.398,.0952],
[14.401,.1147],[14.403,.0952],[14.406,.1293],[14.408,.1463],[14.41,.1008],[14.412,.1415],[14.415,.11],[14.417,.1187],[14.419,.1415],[14.421,.0995],[14.424,.14],[14.426,.0952],[14.428,.1053],[14.43,.1142],[14.433,.1244],[14.435,.0995],[14.437,.1142],[14.439,.1037],[14.442,.0913],[14.444,.1299],[14.446,.1293],[14.448,.1193],
[14.451,.1342],[14.453,.1147],[14.456,.1352],[14.458,.1147],[14.46,.1287],[14.462,.1403],[14.465,.1098],[14.467,.0995],[14.469,.1084],[14.471,.1037],[14.474,.1053],[14.476,.1301],[14.478,.1098],[14.48,.11],[14.483,.1479],[14.485,.1525],[14.487,.1287],[14.489,.1479],[14.492,.1196],[14.494,.1147],[14.496,.1148],[14.498,.1244],
[14.501,.0995],[14.503,.1244],[14.506,.1399],[14.508,.1594],[14.51,.1244],[14.512,.1241],[14.515,.1352],[14.517,.1525],[14.519,.1399],[14.521,.1403],[14.524,.1342],[14.526,.103],[14.528,.1403],[14.53,.1415],[14.533,.1346],[14.535,.125],[14.537,.1196],[14.539,.165],[14.542,.1594],[14.544,.1293],[14.546,.165],[14.548,.1594],
[14.551,.1399],[14.553,.1403],[14.556,.1713],[14.558,.1294],[14.56,.1352],[14.562,.1589],[14.565,.1399],[14.567,.125],[14.569,.1343],[14.571,.1346],[14.574,.125],[14.576,.1713],[14.578,.103],[14.58,.1301],[14.583,.1713],[14.585,.1531],[14.587,.1403],[14.589,.1713],[14.592,.1241],[14.594,.1084],[14.596,.1452],[14.598,.1241],
[14.601,.1452],[14.604,.1531],[14.607,.1641],[14.609,.1713],[14.612,.1188],[14.615,.133],[14.618,.1069],[14.62,.103],[14.623,.1769],[14.626,.1589],[14.629,.1452],[14.631,.1769],[14.634,.1288],[14.637,.1122],[14.64,.1274],[14.642,.1507],[14.645,.1452],[14.648,.133],
[14.651,.15],[14.654,.1165],[14.657,.1612],[14.659,.1641],[14.662,.1233],[14.665,.1245],[14.668,.1443],[14.67,.1343],[14.673,.1319],[14.676,.1387],[14.679,.1713],[14.681,.1831],[14.684,.1769],[14.687,.1233],[14.69,.1319],[14.692,.1769],[14.695,.1397],[14.698,.1612],
[14.701,.1553],[14.704,.133],[14.707,.155],[14.709,.1245],[14.712,.1387],[14.715,.1763],[14.718,.1319],[14.72,.1274],[14.723,.1186],[14.726,.1699],[14.729,.1274],[14.731,.1611],[14.734,.1831],[14.737,.1641],[14.74,.19],[14.742,.1494],[14.745,.1203],[14.748,.19],
[14.751,.1429],[14.754,.1553],[14.757,.1664],[14.759,.1763],[14.762,.1143],[14.765,.1476],[14.768,.1429],[14.77,.1245],[14.773,.1821],[14.776,.1368],[14.779,.1494],[14.781,.1413],[14.784,.1763],[14.787,.1699],[14.79,.1664],[14.792,.19],[14.795,.1377],[14.798,.1963],
[14.801,.1821],[14.804,.149],[14.807,.2038],[14.809,.1664],[14.812,.149],[14.815,.1728],[14.818,.1601],[14.82,.1292],[14.823,.1271],[14.826,.1601],[14.829,.1763],[14.831,.1467],[14.834,.1225],[14.837,.19],[14.84,.1532],[14.842,.1963],[14.845,.1368],[14.848,.1532],
[14.851,.2038],[14.854,.1821],[14.857,.1521],[14.859,.2038],[14.862,.1539],[14.865,.196],[14.868,.1891],[14.87,.1727],[14.873,.2113],[14.876,.1532],[14.879,.1476],[14.881,.1521],[14.884,.1271],[14.887,.1476],[14.89,.1791],[14.892,.1467],[14.895,.1601],[14.898,.1318],
[14.901,.2113],[14.904,.1597],[14.907,.1715],[14.909,.1589],[14.912,.1386],[14.915,.1488],[14.918,.1859],[14.92,.1532],[14.923,.1365],[14.926,.1437],[14.929,.1467],[14.931,.1645],[14.934,.196],[14.937,.1386],[14.94,.2188],[14.942,.1859],[14.945,.1271],[14.948,.1855],
[14.951,.203],[14.954,.1656],[14.957,.1539],[14.959,.1855],[14.962,.1437],[14.965,.1774],[14.968,.1365],[14.97,.1589],[14.973,.2263],[14.976,.1925],[14.979,.1318],[14.981,.1539],[14.984,.2188],[14.987,.196],[14.99,.1701],[14.992,.1925],[14.995,.1791],[14.998,.1991],
[15.002,.2534],[15.006,.172],[15.01,.1629],[15.014,.1376],[15.018,.2009],[15.022,.2299],[15.026,.172],[15.03,.1629],[15.034,.2299],[15.038,.1629],[15.042,.172],[15.046,.2136],
[15.052,.2076],[15.056,.187],[15.06,.2076],[15.064,.187],[15.068,.2375],[15.072,.1421],[15.076,.187],[15.08,.1683],[15.084,.2618],[15.088,.1964],[15.092,.1777],[15.096,.1571],
[15.102,.163],[15.106,.2464],[15.11,.1474],[15.114,.1746],[15.118,.1843],[15.122,.1746],[15.126,.2464],[15.13,.2289],[15.134,.2464],[15.138,.1746],[15.142,.2037],[15.146,.1474],
[15.152,.28],[15.156,.254],[15.16,.168],[15.164,.28],[15.168,.2],[15.172,.21],[15.176,.21],[15.18,.254],[15.184,.168],[15.188,.21],[15.192,.19],[15.196,.152],
[15.202,.1739],[15.206,.2443],[15.21,.2174],[15.214,.2298],[15.218,.2443],[15.222,.1739],[15.226,.2443],[15.23,.1967],[15.234,.2298],[15.238,.1739],[15.242,.1967],[15.246,.1967],
[15.252,.1917],[15.256,.1619],[15.26,.2364],[15.264,.2982],[15.268,.2705],[15.272,.1789],[15.276,.1789],[15.28,.1917],[15.284,.2237],[15.288,.1619],[15.292,.2982],[15.296,.2982],
[15.302,.2442],[15.306,.1848],[15.31,.2794],[15.314,.1848],[15.318,.2794],[15.322,.2794],[15.326,.1848],[15.33,.231],[15.334,.308],[15.338,.209],[15.342,.1672],[15.346,.22],
[15.352,.1907],[15.356,.252],[15.36,.3178],[15.364,.1725],[15.368,.2157],[15.372,.2384],[15.376,.1907],[15.38,.2384],[15.384,.3178],[15.388,.2883],[15.392,.2883],[15.396,.2883],
[15.402,.2972],[15.406,.2457],[15.41,.1966],[15.414,.3276],[15.418,.2223],[15.422,.234],[15.426,.2457],[15.43,.2972],[15.434,.1778],[15.438,.2761],[15.442,.2106],[15.446,.2761],
[15.452,.2299],[15.456,.3073],[15.46,.2686],[15.464,.2686],[15.468,.2856],[15.472,.2299],[15.476,.3073],[15.48,.2541],[15.484,.3073],[15.488,.3388],[15.492,.242],[15.496,.2178]
];
// Original + SYSREM (red), second pass through the dense part of the cloud
const sysremDense = [
[13.5,.0536],[13.502,.0667],[13.505,.0612],[13.507,.0744],[13.509,.0518],[13.511,.05],[13.514,.069],[13.516,.0564],[13.518,.0695],[13.52,.0744],[13.523,.0667],[13.525,.0695],[13.527,.0536],[13.529,.0449],[13.532,.0645],[13.534,.0631],[13.536,.0667],[13.538,.0434],[13.541,.0607],[13.543,.0667],[13.545,.05],[13.547,.0607],
[13.55,.0677],[13.552,.0583],[13.555,.0719],[13.557,.0554],[13.559,.0655],[13.561,.0719],[13.564,.0652],[13.566,.0506],[13.568,.0449],[13.57,.0603],[13.573,.069],[13.575,.0564],[13.577,.0523],[13.579,.0744],[13.582,.0667],[13.584,.0603],[13.586,.0583],[13.588,.0564],[13.591,.0578],[13.593,.0631],[13.595,.0541],[13.597,.0603],
[13.6,.0675],[13.602,.0578],[13.605,.0536],[13.607,.0624],[13.609,.0603],[13.611,.0744],[13.614,.0675],[13.616,.0713],[13.618,.0583],[13.62,.0739],[13.623,.0677],[13.625,.0607],[13.627,.0675],[13.629,.048],[13.632,.0536],[13.634,.0599],[13.636,.0578],[13.638,.0631],[13.641,.0573],[13.643,.0603],[13.645,.069],[13.647,.0573],
[13.65,.0726],[13.652,.0497],[13.655,.0603],[13.657,.0561],[13.659,.0796],[13.661,.0677],[13.664,.0766],[13.666,.0675],[13.668,.0554],[13.67,.062],[13.673,.0573],[13.675,.048],[13.677,.0825],[13.679,.0497],[13.682,.048],[13.684,.0594],[13.686,.0541],[13.688,.0652],[13.691,.0515],[13.693,.0796],[13.695,.0769],[13.697,.0515],
[13.7,.0617],[13.702,.062],[13.705,.065],[13.707,.0644],[13.709,.0515],[13.711,.0624],[13.714,.0644],[13.716,.07],[13.718,.0796],[13.72,.0856],[13.723,.0647],[13.725,.0541],[13.727,.0795],[13.729,.0647],[13.732,.0796],[13.734,.0582],[13.736,.0647],[13.738,.0675],[13.741,.0644],[13.743,.0561],[13.745,.0624],[13.747,.0534],
[13.75,.0894],[13.752,.0644],[13.755,.0647],[13.757,.0672],[13.759,.0582],[13.761,.0726],[13.764,.0672],[13.766,.0795],[13.768,.0561],[13.77,.0701],[13.773,.0644],[13.775,.07],[13.777,.0701],[13.779,.0534],[13.782,.0673],[13.784,.0701],[13.786,.0726],[13.788,.0594],[13.791,.0729],[13.793,.0644],[13.795,.0561],[13.797,.0729],
[13.8,.0673],[13.802,.0558],[13.805,.0856],[13.807,.0793],[13.809,.0608],[13.811,.0795],[13.814,.0703],[13.816,.0758],[13.818,.0856],[13.82,.0583],[13.823,.0829],[13.825,.0795],[13.827,.0868],[13.829,.0787],[13.832,.0534],[13.834,.0823],[13.836,.0558],[13.838,.0582],[13.841,.0793],[13.843,.0787],[13.845,.0726],[13.847,.0868],
[13.85,.0733],[13.852,.0935],[13.855,.0758],[13.857,.0764],[13.859,.0673],[13.861,.0701],[13.864,.0733],[13.866,.0823],[13.868,.0829],[13.87,.0663],[13.873,.0733],[13.875,.0558],[13.877,.0796],[13.879,.0935],[13.882,.0644],[13.884,.0858],[13.886,.0636],[13.888,.0701],[13.891,.0796],[13.893,.0793],[13.895,.0672],[13.897,.0796],
[13.9,.0804],[13.902,.0975],[13.905,.0583],[13.907,.0869],[13.909,.0663],[13.911,.0703],[13.914,.064],[13.916,.0733],[13.918,.0636],[13.92,.064],[13.923,.0858],[13.925,.0673],[13.927,.064],[13.929,.0905],[13.932,.0763],[13.934,.0697],[13.936,.0608],[13.938,.0703],[13.941,.0951],[13.943,.0733],[13.945,.0823],[13.947,.0836],
[13.95,.0675],[13.952,.0836],[13.955,.0663],[13.957,.0675],[13.959,.0697],[13.961,.0663],[13.964,.0882],[13.966,.0902],[13.968,.0764],[13.97,.0952],[13.973,.0902],[13.975,.0608],[13.977,.0848],[13.979,.0697],[13.982,.0858],[13.984,.0735],[13.986,.0951],[13.988,.0975],[13.991,.1003],[13.993,.0869],[13.995,.0663],[13.997,.0675],
[14.0,.0949],[14.002,.1003],[14.005,.0902],[14.007,.0841],[14.009,.1081],[14.011,.0869],[14.014,.1119],[14.016,.0917],[14.018,.0836],[14.02,.0913],[14.023,.0779],[14.025,.0697],[14.027,.0806],[14.029,.0917],[14.032,.0902],[14.034,.0761],[14.036,.0882],[14.038,.0804],[14.041,.0949],[14.043,.1003],[14.045,.0951],[14.047,.1119],
[14.05,.0944],[14.052,.0985],[14.055,.0675],[14.057,.087],[14.059,.0913],[14.061,.0675],[14.064,.087],[14.066,.0913],[14.068,.0848],[14.07,.0722],[14.073,.0806],[14.075,.0735],[14.077,.0833],[14.079,.0841],[14.082,.0848],[14.084,.0722],[14.086,.0985],[14.088,.1003],[14.091,.0907],[14.093,.1119],[14.095,.1003],[14.097,.0786],
[14.1,.1194],[14.102,.087],[14.105,.0841],[14.107,.0936],[14.109,.087],[14.111,.0806],[14.114,.0812],[14.116,.0722],[14.118,.0949],[14.12,.1108],[14.123,.0786],[14.125,.0985],[14.127,.0745],[14.129,.0786],[14.132,.0806],[14.134,.0812],[14.136,.0722],[14.138,.0698],[14.141,.0974],[14.143,.0981],[14.145,.0806],[14.147,.1051],
[14.15,.1143],[14.152,.1108],[14.155,.0722],[14.157,.0887],[14.159,.0898],[14.161,.0944],[14.164,.0837],[14.166,.1194],[14.168,.087],[14.17,.0768],[14.173,.0898],[14.175,.087],[14.177,.0887],[14.179,.086],[14.182,.0907],[14.184,.1084],[14.186,.0936],[14.188,.0944],[14.191,.0768],[14.193,.0812],[14.195,.0944],[14.197,.1143],
[14.2,.1046],[14.202,.0926],[14.205,.1194],[14.207,.08],[14.209,.0965],[14.211,.1051],[14.214,.0964],[14.216,.0768],[14.218,.0936],[14.22,.0871],[14.223,.1231],[14.225,.1194],[14.227,.1046],[14.229,.1084],[14.232,.1051],[14.234,.1128],[14.236,.1084],[14.238,.0745],[14.241,.1281],[14.243,.0926],[14.245,.0974],[14.247,.08],
[14.25,.1006],[14.252,.1087],[14.255,.1044],[14.257,.0835],[14.259,.1005],[14.261,.0837],[14.264,.1134],[14.266,.1281],[14.268,.1231],[14.27,.1177],[14.273,.0964],[14.275,.0887],[14.277,.1338],[14.279,.1128],[14.282,.0887],[14.284,.1091],[14.286,.08],[14.288,.1143],[14.291,.1241],[14.293,.1087],[14.295,.1143],[14.297,.1177],
[14.3,.1187],[14.302,.1338],[14.305,.1087],[14.307,.1187],[14.309,.1049],[14.311,.08],[14.314,.1053],[14.316,.1091],[14.318,.1046],[14.32,.1142],[14.323,.1177],[14.325,.08],[14.327,.1232],[14.329,.091],[14.332,.1087],[14.334,.1008],[14.336,.0963],[14.338,.1087],[14.341,.1299],[14.343,.1049],[14.345,.1005],[14.347,.1232],
[14.35,.0995],[14.352,.1187],[14.355,.0963],[14.357,.1193],[14.359,.1187],[14.361,.0835],[14.364,.1287],[14.366,.14],[14.368,.1241],[14.37,.1357],[14.373,.1008],[14.375,.1134],[14.377,.1193],[14.379,.0952],[14.382,.1177],[14.384,.1357],[14.386,.1232],[14.388,.091],[14.391,.11],[14.393,.1098],[14.395,.091],[14.397,.1463],
[14.4,.1244],[14.402,.0995],[14.405,.1008],[14.407,.1196],[14.409,.124],[14.411,.1187],[14.414,.1244],[14.416,.1053],[14.418,.0874],[14.42,.1037],[14.423,.0913],[14.425,.1053],[14.427,.0952],[14.429,.1193],[14.432,.14],[14.434,.1098],[14.436,.0995],[14.438,.1008],[14.441,.1147],[14.443,.124],[14.445,.1187],[14.447,.1342],
[14.45,.1403],[14.452,.1037],[14.455,.1463],[14.457,.125],[14.459,.1147],[14.461,.1053],[14.464,.1301],[14.466,.1098],[14.468,.1287],[14.47,.1479],[14.473,.1293],[14.475,.1287],[14.477,.1301],[14.479,.1147],[14.482,.1463],[14.484,.1479],[14.486,.1244],[14.488,.1193],[14.491,.1479],[14.493,.1525],[14.495,.1147],[14.497,.125],
[14.5,.1531],[14.502,.1594],[14.505,.1293],[14.507,.165],[14.509,.1403],[14.511,.0952],[14.514,.165],[14.516,.1352],[14.518,.1196],[14.52,.103],[14.523,.1594],[14.525,.1342],[14.527,.1346],[14.529,.125],[14.532,.1244],[14.534,.165],[14.536,.1084],[14.538,.1415],[14.541,.1346],[14.543,.1352],[14.545,.1525],[14.547,.1346],
[14.55,.1452],[14.552,.1241],[14.555,.1479],[14.557,.1069],[14.559,.1188],[14.561,.1199],[14.564,.1452],[14.566,.1241],[14.568,.1403],[14.57,.1069],[14.573,.1122],[14.575,.1352],[14.577,.1233],[14.579,.1122],[14.582,.1084],[14.584,.1233],[14.586,.103],[14.588,.125],[14.591,.1507],[14.593,.1452],[14.595,.125],[14.597,.1233],
[14.602,.1507],[14.606,.1274],[14.61,.1188],[14.614,.1589],[14.618,.133],[14.622,.1399],[14.627,.1343],[14.631,.1641],[14.635,.165],[14.639,.1452],[14.643,.1203],[14.647,.1241],
[14.652,.1387],[14.656,.1319],[14.66,.1233],[14.664,.1443],[14.668,.1245],[14.672,.1452],[14.677,.1387],[14.681,.1436],[14.685,.1397],[14.689,.1104],[14.693,.1612],[14.697,.1589],
[14.702,.1245],[14.706,.1763],[14.71,.1274],[14.714,.1436],[14.718,.149],[14.722,.1274],[14.727,.1377],[14.731,.155],[14.735,.1274],[14.739,.1831],[14.743,.149],[14.747,.1641],
[14.752,.1611],[14.756,.1476],[14.76,.1553],[14.764,.1429],[14.768,.1727],[14.772,.1319],[14.777,.1292],[14.781,.1539],[14.785,.1245],[14.789,.1672],[14.793,.1539],[14.797,.1143],
[14.802,.1413],[14.806,.1532],[14.81,.1763],[14.814,.1821],[14.818,.2038],[14.822,.1429],[14.827,.1539],[14.831,.1597],[14.835,.1292],[14.839,.1413],[14.843,.1597],[14.847,.1672],
[14.852,.2038],[14.856,.1791],[14.86,.1476],[14.864,.1663],[14.868,.1859],[14.872,.1539],[14.877,.1532],[14.881,.1859],[14.885,.1225],[14.889,.1467],[14.893,.1791],[14.897,.1476]
];
const sysremOutliers = [
[13.618,.225],[13.721,.1803],[13.82,.1459],[13.62,.1081],[13.739,.1223],[13.609,.0937],[13.773,.1104],[13.743,.1049],[13.743,.0835],[13.524,.1014],
[13.857,.1074],[13.822,.1035],[13.833,.101],[13.835,.0947],[13.822,.0903],[13.738,.0897],[13.61,.0733],[13.577,.0774],[13.552,.0695],[13.517,.0697],
[13.935,.1024],[13.918,.0983],[13.959,.1111],[14.012,.1104],[14.029,.1142],[13.984,.159],[14.233,.1828],[14.366,.2011],[14.474,.2089],[14.494,.1971],
[14.483,.1892],[14.471,.1828],[14.253,.1521],[14.189,.1459],[14.167,.1383],[14.216,.142],[14.329,.1552],[14.351,.1574],[14.395,.1574],[14.417,.1633],
[14.483,.1644],[14.513,.1725],[14.513,.1841],[14.539,.1846],[14.563,.2025],[14.583,.2956],[14.739,.2434],[14.817,.2685],[14.846,.2733],[14.9,.2697],
[14.938,.2571],[14.789,.2535],[14.808,.2501],[14.785,.2459],[14.988,.2535],[15.021,.2518],[15.047,.2494],[15.086,.2477],[15.185,.2546],[15.209,.2528],
[15.257,.2501],[15.299,.2384],[15.343,.2377],[15.377,.2274],[15.355,.2138],[15.338,.1977],[15.285,.1227],[15.314,.1846],[15.307,.144],[14.959,.1064],
[14.714,.1182],[14.76,.1174],[14.785,.119],[14.75,.1127],[14.854,.0881],[14.855,.0802],[14.715,.0775],[14.592,.0686],[14.441,.0631],[13.739,.0518],
[13.623,.0452],[15.157,.1611],[15.15,.1387],[15.038,.1469],[14.354,.0852],[14.226,.0759],[14.198,.0743],[14.154,.0748],[14.111,.07],[14.145,.0692],
[14.106,.0653],[14.299,.0746],[13.636,.0481],[13.598,.0466],[13.625,.0455],[13.679,.0477],[13.692,.0488],[13.708,.0479],[13.85,.0525],[13.896,.0545],
[13.517,.0466],[13.553,.0483],[13.526,.0472]
];

// ---------- layout ----------
const W = 1408, H = 1047;
const serif = "'Liberation Serif','DejaVu Serif',serif";
const sans = "'Open Sans','Liberation Sans',sans-serif";
const x = d3.scaleLinear().domain([13.5, 15.5]).range([173, 1259]);
const y = d3.scaleLog().domain([0.0247, 0.494]).range([937, 58]);
const X0 = x(13.5), X1 = x(15.5), Y0 = y(0.0247), Y1 = y(0.494);

const svg = d3.select("#chart");
const defs = svg.append("defs");
const bg = defs.append("linearGradient").attr("id", "bg").attr("x1", 0).attr("y1", 0).attr("x2", 1).attr("y2", 0.25);
[[0, "#b2cfe9"], [0.14, "#b4d1ea"], [0.45, "#c8dcef"], [0.8, "#d5e5f3"], [1, "#d9e8f4"]].forEach(s =>
  bg.append("stop").attr("offset", s[0]).attr("stop-color", s[1]));
defs.append("clipPath").attr("id", "plotclip").append("rect")
  .attr("x", X0).attr("y", Y1).attr("width", X1 - X0).attr("height", Y0 - Y1);
const sh = defs.append("filter").attr("id", "shadow").attr("x", "-30%").attr("y", "-30%").attr("width", "170%").attr("height", "170%");
sh.append("feGaussianBlur").attr("in", "SourceAlpha").attr("stdDeviation", 3).attr("result", "b");
sh.append("feOffset").attr("in", "b").attr("dx", 4).attr("dy", 5).attr("result", "o");
sh.append("feComponentTransfer").attr("in", "o").attr("result", "c").append("feFuncA").attr("type", "linear").attr("slope", 0.45);
const mg = sh.append("feMerge"); mg.append("feMergeNode").attr("in", "c"); mg.append("feMergeNode").attr("in", "SourceGraphic");

// background
svg.append("rect").attr("width", W).attr("height", H).attr("fill", "url(#bg)");
svg.append("circle").attr("cx", -45).attr("cy", 1085).attr("r", 92).attr("fill", "none")
  .attr("stroke", "#e4eef8").attr("stroke-width", 22).attr("opacity", 0.7);
svg.append("circle").attr("cx", -45).attr("cy", 1085).attr("r", 73).attr("fill", "#0c0c6c");

// right side slide content
svg.append("rect").attr("x", 1311).attr("y", 505).attr("width", 220).attr("height", 520)
  .attr("fill", "#d9e8f4").attr("stroke", "#4a7cb8").attr("stroke-width", 2);
[["O", 1371, 318], ["At", 1349, 395], ["At", 1342, 688], ["At", 1367, 905]].forEach(t =>
  svg.append("text").attr("x", t[1]).attr("y", t[2]).text(t[0])
    .attr("font-family", sans).attr("font-style", "italic").attr("font-size", 58).attr("fill", "#000"));

// plot area
svg.append("rect").attr("x", X0).attr("y", Y1).attr("width", X1 - X0).attr("height", Y0 - Y1).attr("fill", "#fff");

const pts = svg.append("g").attr("clip-path", "url(#plotclip)");
pts.selectAll("circle.red").data(sysrem.concat(sysremDense, sysremOutliers)).join("circle")
  .attr("class", "red").attr("cx", d => x(d[0])).attr("cy", d => y(d[1])).attr("r", 4.1)
  .attr("fill", "#ff0000").attr("stroke", "#4a0000").attr("stroke-width", 0.7);
pts.selectAll("circle.blk").data(reprocessing.concat(reprocessingDense, reprocessingOutliers)).join("circle")
  .attr("class", "blk").attr("cx", d => x(d[0])).attr("cy", d => y(d[1])).attr("r", 4)
  .attr("fill", "#000");

// dashed cut lines
const cuts = svg.append("g").attr("stroke", "#000").attr("stroke-width", 2.6).attr("fill", "none");
magnitudeCuts.forEach(m => cuts.append("line").attr("x1", x(m)).attr("x2", x(m)).attr("y1", Y1).attr("y2", Y0).attr("stroke-dasharray", "7,5"));
rmsCuts.forEach(r => cuts.append("line").attr("x1", X0).attr("x2", X1).attr("y1", y(r)).attr("y2", y(r)).attr("stroke-dasharray", "8,5"));

// arrows
function arrow(p0, p1, horizontal) {
  const ax0 = x(p0[0]), ay0 = y(p0[1]), ax1 = x(p1[0]), ay1 = y(p1[1]);
  const hl = 28, hw = 13;
  if (horizontal) {
    svg.append("line").attr("x1", ax0).attr("y1", ay0).attr("x2", ax1 - hl).attr("y2", ay1).attr("stroke", "#222").attr("stroke-width", 1.6);
    svg.append("path").attr("d", `M${ax1 - hl},${ay1 - hw}L${ax1},${ay1}L${ax1 - hl},${ay1 + hw}Z`).attr("fill", "#000");
  } else {
    svg.append("line").attr("x1", ax0).attr("y1", ay0).attr("x2", ax1).attr("y2", ay1 - hl).attr("stroke", "#444").attr("stroke-width", 1.6);
    svg.append("path").attr("d", `M${ax1 - hw - 1},${ay1 - hl}L${ax1},${ay1}L${ax1 + hw + 1},${ay1 - hl}Z`).attr("fill", "#000");
  }
}
arrow(fainterArrow[0], fainterArrow[1], true);
arrow(improvedArrow[0], improvedArrow[1], false);

// annotations
function mathText(str, xx, yy, size, len) {
  const t = svg.append("text").attr("x", xx).attr("y", yy).text(str)
    .attr("font-family", serif).attr("font-style", "italic").attr("font-size", size).attr("fill", "#000");
  if (len) t.attr("textLength", len).attr("lengthAdjust", "spacingAndGlyphs");
  return t;
}
mathText("Fainter", 227, 162, 58, 181);
mathText("Targets", 227, 227, 58, 183);
mathText("Improved RMS", 825, 798, 56, 375);

// axes
function styleAxis(g) {
  g.select(".domain").remove();
  g.selectAll(".tick line").attr("stroke", "#000").attr("stroke-width", 1.4);
}
const gx = svg.append("g").attr("transform", `translate(0,${Y0})`)
  .call(d3.axisBottom(x).tickValues(xTicks).tickSizeInner(-18).tickSizeOuter(0).tickPadding(10)
    .tickFormat((d, i) => xTickLabels[i]));
styleAxis(gx);
gx.selectAll("text").attr("font-family", serif).attr("font-size", 50).attr("fill", "#000")
  .attr("dx", -4).attr("textLength", 86).attr("lengthAdjust", "spacingAndGlyphs");
const gxt = svg.append("g").attr("transform", `translate(0,${Y1})`)
  .call(d3.axisTop(x).tickValues(xInnerTicks).tickSizeInner(-18).tickSizeOuter(0).tickFormat(""));
styleAxis(gxt);
const gyl = svg.append("g").attr("transform", `translate(${X0},0)`)
  .call(d3.axisLeft(y).tickValues(yMinorTicks).tickSizeInner(-10).tickSizeOuter(0).tickFormat(""));
styleAxis(gyl);
const gylM = svg.append("g").attr("transform", `translate(${X0},0)`)
  .call(d3.axisLeft(y).tickValues(yMajorTicks).tickSizeInner(-20).tickSizeOuter(0).tickFormat(""));
styleAxis(gylM);
const gyr = svg.append("g").attr("transform", `translate(${X1},0)`)
  .call(d3.axisRight(y).tickValues(yMinorTicks).tickSizeInner(-10).tickSizeOuter(0).tickFormat(""));
styleAxis(gyr);
const gyrM = svg.append("g").attr("transform", `translate(${X1},0)`)
  .call(d3.axisRight(y).tickValues(yMajorTicks).tickSizeInner(-20).tickSizeOuter(0).tickFormat(""));
styleAxis(gyrM);
yMajorTicks.forEach(v => {
  svg.append("text").attr("x", 68).attr("y", y(v) + 18).text("10")
    .attr("font-family", serif).attr("font-size", 50).attr("fill", "#000").attr("textLength", 50).attr("lengthAdjust", "spacingAndGlyphs");
  svg.append("text").attr("x", 121).attr("y", y(v) - 8).text("\u22121")
    .attr("font-family", serif).attr("font-size", 35).attr("fill", "#000").attr("textLength", 44).attr("lengthAdjust", "spacingAndGlyphs");
});

// frame
svg.append("rect").attr("x", X0).attr("y", Y1).attr("width", X1 - X0).attr("height", Y0 - Y1)
  .attr("fill", "none").attr("stroke", "#000").attr("stroke-width", 3);

// axis labels
mathText("Magnitude", 585, 1033, 54, 258);
svg.append("text").attr("transform", `translate(55,497) rotate(-90)`).attr("text-anchor", "middle").text("RMS")
  .attr("font-family", serif).attr("font-style", "italic").attr("font-size", 58).attr("fill", "#000")
  .attr("textLength", 125).attr("lengthAdjust", "spacingAndGlyphs");

// legend
const lg = svg.append("g");
lg.append("rect").attr("x", 769).attr("y", 7).attr("width", 700).attr("height", 220)
  .attr("fill", "#f2fbfc").attr("stroke", "#1f3c6c").attr("stroke-width", 2);
const sw = [[783, 20, 63, 60], [781, 86, 63, 60], [784, 156, 57, 56]];
const lens = [480, 392, 290];
const baselines = [57, 129, 201];
legendLabels.forEach((lab, i) => {
  const s = sw[i];
  lg.append("rect").attr("x", s[0]).attr("y", s[1]).attr("width", s[2]).attr("height", s[3])
    .attr("fill", "#000").attr("filter", "url(#shadow)");
  lg.append("rect").attr("x", s[0] + 8).attr("y", s[1] + 8).attr("width", s[2] - 16).attr("height", s[3] - 16)
    .attr("fill", legendColors[i]);
  lg.append("text").attr("x", 918).attr("y", baselines[i]).text(lab)
    .attr("font-family", serif).attr("font-style", "italic").attr("font-size", 54).attr("fill", "#000")
    .attr("textLength", lens[i]).attr("lengthAdjust", "spacingAndGlyphs");
});
</script>
</body></html>
